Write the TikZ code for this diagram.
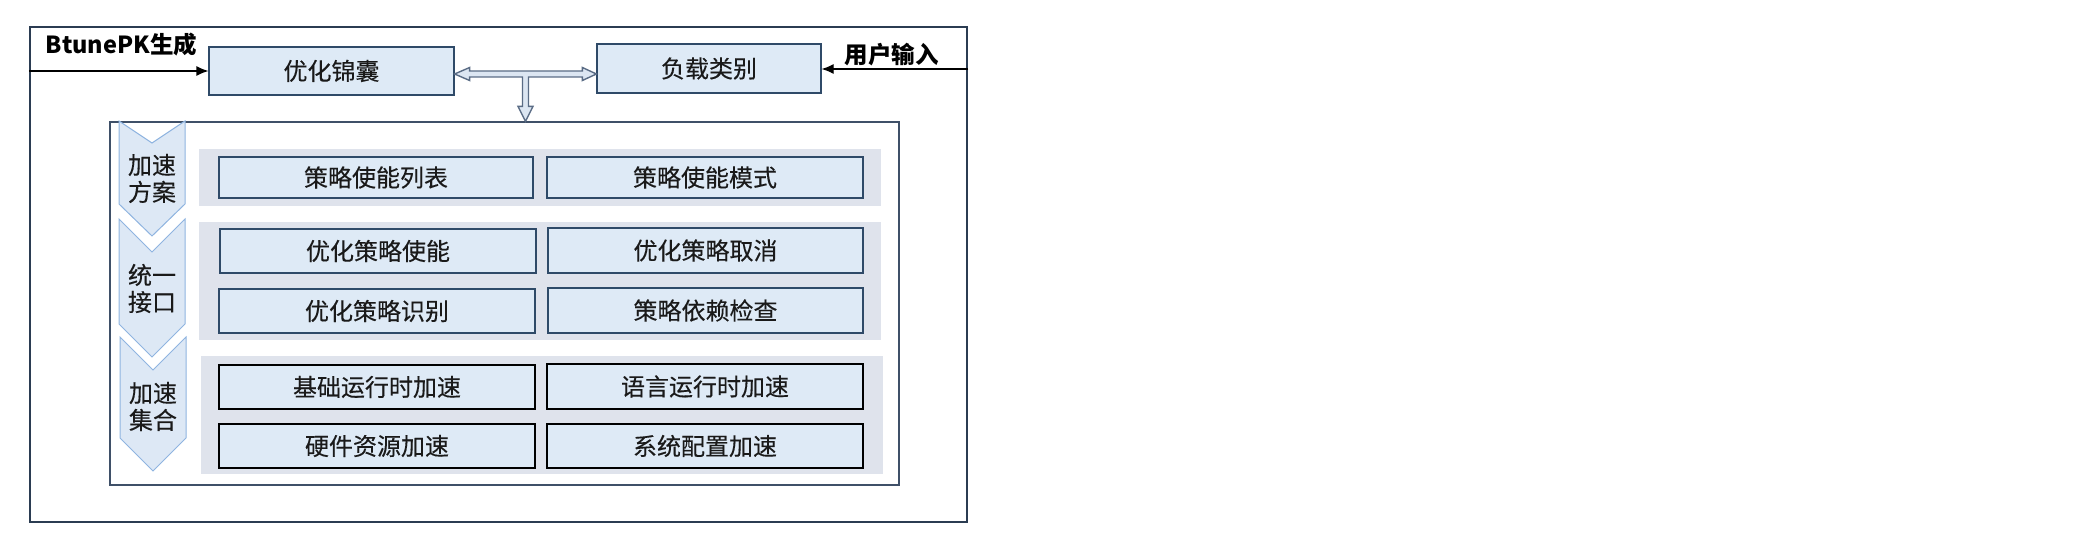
\documentclass[tikz,border=0pt]{standalone}
\usepackage{fontspec}
\setmainfont{Noto Sans CJK SC}[UprightFeatures={FakeBold=0.25}]
\usetikzlibrary{arrows.meta,fit,calc}
\definecolor{framecol}{HTML}{2B3C52}
\definecolor{innercol}{HTML}{3F5068}
\definecolor{boxfill}{HTML}{DEEAF6}
\definecolor{boxline}{HTML}{2F4A68}
\definecolor{panelfill}{HTML}{DFE3EC}
\definecolor{chevfill}{HTML}{DDE8F5}
\definecolor{chevline}{HTML}{8FB4E0}
\definecolor{hollowline}{HTML}{5A6C85}
\definecolor{hollowfill}{HTML}{DCE6F2}
\definecolor{txt}{HTML}{1A1A1A}
\begin{document}
\begin{tikzpicture}[x=0.5pt,y=-0.5pt,
  font=\fontsize{12}{13.5}\selectfont,
  outerframe/.style={draw=framecol,line width=1.25pt},
  innerframe/.style={draw=innercol,line width=0.65pt},
  panel/.style={fill=panelfill,draw=none,inner sep=0pt},
  tbox/.style={draw=boxline,fill=boxfill,line width=0.6pt,inner sep=0pt,text=txt},
  kbox/.style={draw=black,fill=boxfill,line width=0.6pt,inner sep=0pt,text=txt},
  chev/.style={draw=chevline,fill=chevfill,line width=0.5pt},
  chevtext/.style={align=center,text=txt,inner sep=0pt},
  biglabel/.style={font=\fontsize{11.75}{13}\selectfont\bfseries,inner sep=0pt},
  thinarrow/.style={draw=black,line width=0.6pt,-{Latex[length=6pt,width=5pt]}},
  hollow/.style={draw=hollowline,fill=hollowfill,line width=0.7pt,line join=miter}
]
\useasboundingbox (0,0) rectangle (2100,544);

% frames
\node[outerframe,inner sep=0pt,fit={(30,27) (967,522)}] (outer) {};
\node[innerframe,inner sep=0pt,fit={(110,122) (899,485)}] (inner) {};

% top boxes
\node[tbox,fit={(209,47) (454,95)}] (opt) {};
\node[text=txt] at (opt.center) {优化锦囊};
\node[tbox,fit={(597,44) (821,93)}] (load) {};
\node[text=txt] at (load.center) {负载类别};

% labels
\node[biglabel] (lblB) at (121.5,45) {BtunePK生成};
\node[biglabel] (lblU) at (891.5,55) {用户输入};

% thin arrows
\coordinate (inL) at (outer.west |- 0,71);
\coordinate (inR) at (outer.east |- 0,69);
\draw[thinarrow] (inL) -- (inL -| opt.west);
\draw[thinarrow] (inR) -- (inR -| load.east);

% hollow T arrow
\coordinate (ay) at (0,74);
\coordinate (aL) at (opt.east |- ay);
\coordinate (aR) at (load.west |- ay);
\coordinate (aD) at (525.5,0);
\coordinate (aD) at (aD |- inner.north);
\coordinate (aJ) at (aD |- ay);
\draw[hollow] (aL) -- ($(aL)+(15,-6.5)$) -- ($(aL)+(15,-3)$) -- ($(aR)+(-14,-3)$)
  -- ($(aR)+(-14,-6.5)$) -- (aR) -- ($(aR)+(-14,6.5)$) -- ($(aR)+(-14,3)$)
  -- ($(aJ)+(3,3)$) -- ($(aD)+(3,-15)$) -- ($(aD)+(7.5,-15)$) -- (aD)
  -- ($(aD)+(-7.5,-15)$) -- ($(aD)+(-3,-15)$) -- ($(aJ)+(-3,3)$)
  -- ($(aL)+(15,3)$) -- ($(aL)+(15,6.5)$) -- cycle;

% chevrons
\draw[chev] (119,121) -- (152,143) -- (185,121) -- (185,204) -- (152,236) -- (119,204) -- cycle;
\draw[chev] (119,219) -- (152,252) -- (185,219) -- (185,324) -- (152,357) -- (119,324) -- cycle;
\draw[chev] (120,337) -- (153,370) -- (186,337) -- (186,438) -- (153,471) -- (120,438) -- cycle;
\node[chevtext] (c1) at (152,178.5) {加速\\方案};
\node[chevtext] (c2) at (152,288.5) {统一\\接口};
\node[chevtext] (c3) at (153,406.5) {加速\\集合};

% panels
\node[panel,fit={(199,149) (881,206)}] (p1) {};
\node[panel,fit={(199,222) (881,340)}] (p2) {};
\node[panel,fit={(201,356) (883,474)}] (p3) {};

% boxes
\node[tbox,fit={(219,157) (533,198)}] (b11) {};
\node[text=txt] at (b11.center) {策略使能列表};
\node[tbox,fit={(547,157) (863,198)}] (b12) {};
\node[text=txt] at (b12.center) {策略使能模式};
\node[tbox,fit={(220,229) (536,273)}] (b21) {};
\node[text=txt] at (b21.center) {优化策略使能};
\node[tbox,fit={(548,228) (863,273)}] (b22) {};
\node[text=txt] at (b22.center) {优化策略取消};
\node[tbox,fit={(219,289) (535,333)}] (b31) {};
\node[text=txt] at (b31.center) {优化策略识别};
\node[tbox,fit={(548,288) (863,333)}] (b32) {};
\node[text=txt] at (b32.center) {策略依赖检查};
\node[kbox,fit={(219,365) (535,409)}] (b41) {};
\node[text=txt] at (b41.center) {基础运行时加速};
\node[kbox,fit={(547,364) (863,409)}] (b42) {};
\node[text=txt] at (b42.center) {语言运行时加速};
\node[kbox,fit={(219,424) (535,468)}] (b51) {};
\node[text=txt] at (b51.center) {硬件资源加速};
\node[kbox,fit={(547,424) (863,468)}] (b52) {};
\node[text=txt] at (b52.center) {系统配置加速};
\end{tikzpicture}
\end{document}
